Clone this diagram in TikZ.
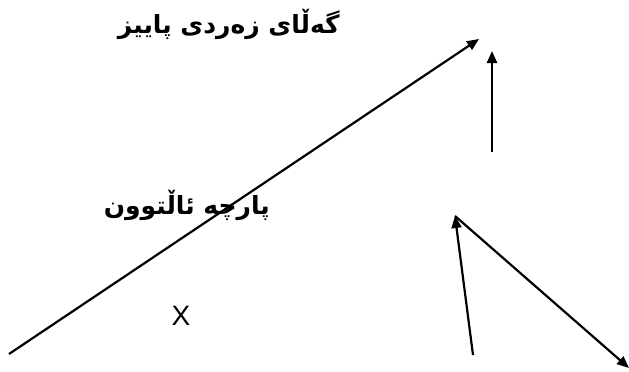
\documentclass[tikz,border=0pt]{standalone}
\usepackage{fontspec}
\setmainfont{Liberation Sans}
\newfontfamily\kurdfont[Script=Arabic]{DejaVu Sans}
\TeXXeTstate=1
\usetikzlibrary{arrows.meta}

\begin{document}
\begin{tikzpicture}[
        x=1pt, y=-1pt,
        label/.style={font=\kurdfont\bfseries\fontsize{25}{28}\selectfont, inner sep=0pt},
        arrow/.style={-{Triangle[length=12pt, width=10pt]}, line width=2.2pt}
    ]
        \useasboundingbox (0,0) rectangle (629,372);

        % texts
        \node[label, anchor=east] (leaves) at (340, 24) {\beginR گەڵای زەردی پاییز\endR};
        \node[label, anchor=east] (gold) at (270, 205) {\beginR پارچە ئاڵتوون\endR};
        \node[font=\fontsize{28}{30}\selectfont, inner sep=0pt] (cross) at (181, 316) {X};

        % end points
        \coordinate (low) at (9, 354);
        \coordinate (high) at (479, 39);
        \coordinate (stem) at (492, 152);
        \coordinate (stemtop) at (492, 51);
        \coordinate (foot) at (473, 355);
        \coordinate (apex) at (455, 216);
        \coordinate (corner) at (629, 368);

        % arrows
        \draw[arrow] (low) -- (high);
        \draw[arrow] (stem) -- (stemtop);
        \draw[arrow] (foot) -- (apex);
        \draw[arrow] (apex) -- (corner);

    \end{tikzpicture}
\end{document}
